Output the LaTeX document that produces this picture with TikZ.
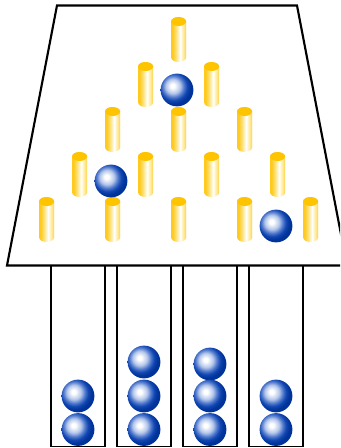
\documentclass[tikz,border=0pt]{standalone}
\usetikzlibrary{calc}
\definecolor{pegA}{HTML}{FFCA20}
\definecolor{pegB}{HTML}{FFE27C}
\definecolor{pegW}{HTML}{FFF4C4}
\definecolor{pegcap}{HTML}{FFC400}
\definecolor{ballA}{HTML}{B4C6EA}
\definecolor{ballB}{HTML}{4F78CC}
\definecolor{ballC}{HTML}{1247B2}
\definecolor{ballD}{HTML}{003399}
% Shadings for the brass pegs and the glossy blue balls
\pgfdeclarehorizontalshading{pegshade}{100bp}{
  color(0bp)=(pegA); color(25bp)=(pegA); color(30bp)=(pegA); color(42bp)=(pegB);
  color(55bp)=(white); color(61bp)=(pegW); color(70bp)=(pegB); color(75bp)=(pegA); color(100bp)=(pegA)}
\pgfdeclareradialshading{ballshade}{\pgfpoint{-7bp}{6.5bp}}{
  color(0bp)=(white); color(3bp)=(white); color(11bp)=(ballA); color(16.5bp)=(ballB);
  color(21bp)=(ballC); color(26bp)=(ballD); color(100bp)=(ballD)}
\tikzset{
  wall/.style={draw=black, line width=1.6pt, line join=miter},
  binwall/.style={draw=black, line width=1.4pt},
  pegbody/.style={shading=pegshade},
  pegtop/.style={fill=pegcap},
  marble/.style={shading=ballshade}
}
\newcommand{\peg}[2]{%
  \path[pegbody] (#1-7.5,#2+4.5) arc[start angle=180,end angle=360,x radius=7.5,y radius=4.5]
    -- (#1+7.5,#2+40.5) arc[start angle=0,end angle=180,x radius=7.5,y radius=4.5] -- cycle;
  \path[pegtop] (#1,#2+4.5) ellipse[x radius=7.5,y radius=4.5];
}
\newcommand{\ball}[2]{\path[marble] (#1,#2) circle[radius=16.4];}
\begin{document}
\begin{tikzpicture}[x=0.75pt,y=-0.75pt]
  \useasboundingbox (0,0) rectangle (340,448);
  \begin{scope}
    \clip (0,0) rectangle (340,448);
    % Board outline
    \draw[wall] (57,5.5) -- (297,5.5) -- (347,265.5) -- (7,265.5) -- cycle;
    % Collecting bins
    \foreach \x in {51,117,183,249}
      \draw[binwall] (\x,265.5) -- (\x,446.5) -- (\x+54,446.5) -- (\x+54,265.5);
  \end{scope}
  % Pegs, row by row
  \foreach \x/\y in {178.6/17,
      145.6/62, 211.6/62,
      112.6/107, 178.6/107, 244.6/107,
      79.6/152, 145.6/152, 211.6/152, 277.6/152,
      46.6/197, 112.6/197, 178.6/197, 244.6/197, 310.6/197}
    {\peg{\x}{\y}}
  % Falling balls
  \foreach \x/\y in {177/90, 111/181, 276/226}
    {\ball{\x}{\y}}
  % Balls resting in the bins
  \foreach \x/\y in {78/396, 78/429.5,
      144/362, 144/396, 144/429.5,
      210/364, 210/396, 210/429.5,
      276/396, 276/429.5}
    {\ball{\x}{\y}}
\end{tikzpicture}
\end{document}
